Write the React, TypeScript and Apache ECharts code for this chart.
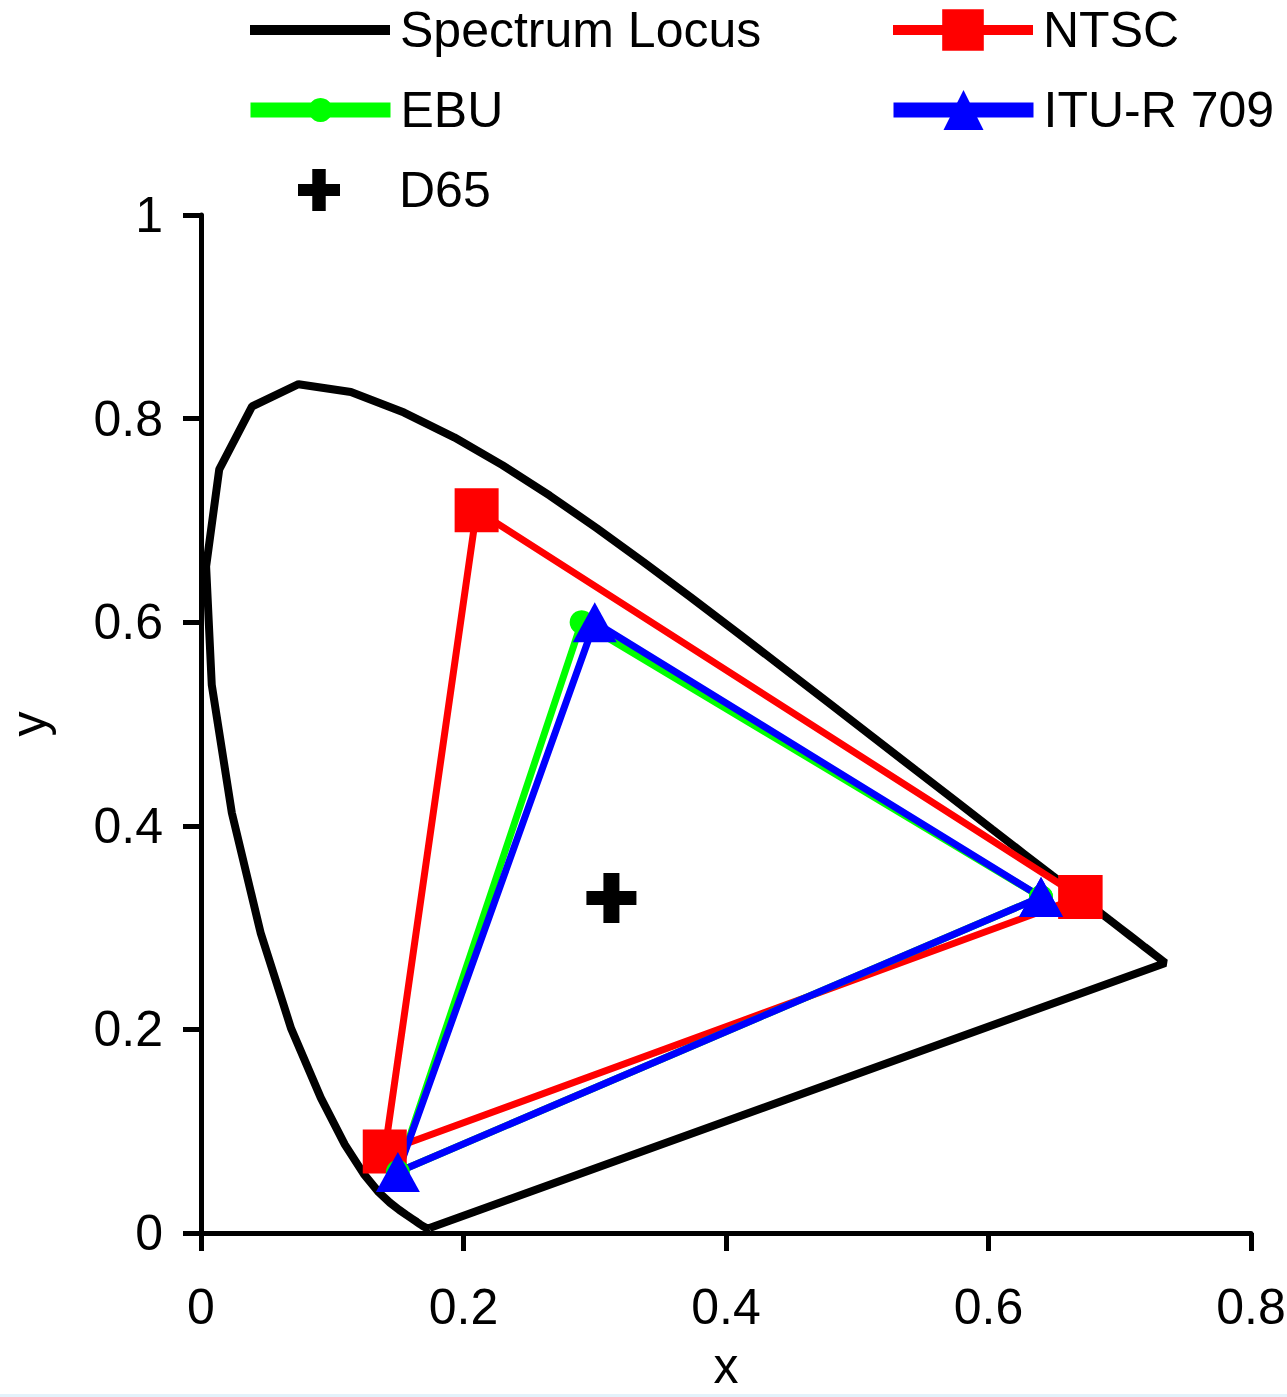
import React, { useEffect, useRef } from "react";
import * as echarts from "echarts";

// CIE 1931 spectrum locus chromaticities (380 nm .. 700 nm)
const locusX = [0.1741, 0.1738, 0.1733, 0.1726, 0.1714, 0.1689, 0.1669, 0.1644, 0.1611, 0.1566, 0.151, 0.144, 0.1355, 0.1241, 0.1096, 0.0913, 0.0687, 0.0454, 0.0235, 0.0082, 0.0039, 0.0139, 0.0389, 0.0743, 0.1142, 0.1547, 0.1929, 0.2296, 0.2658, 0.3016, 0.3373, 0.3731, 0.4087, 0.4441, 0.4788, 0.5125, 0.5448, 0.5752, 0.6029, 0.627, 0.6482, 0.6658, 0.6801, 0.6915, 0.7006, 0.7079, 0.714, 0.719, 0.723, 0.726, 0.73, 0.7334, 0.7347, 0.1741];
const locusY = [0.005, 0.0049, 0.0048, 0.0048, 0.0051, 0.0069, 0.0086, 0.0109, 0.0138, 0.0177, 0.0227, 0.0297, 0.0399, 0.0578, 0.0868, 0.1327, 0.2007, 0.295, 0.4127, 0.5384, 0.6548, 0.7502, 0.812, 0.8338, 0.8262, 0.8059, 0.7816, 0.7543, 0.7243, 0.6923, 0.6589, 0.6245, 0.5896, 0.5547, 0.5202, 0.4866, 0.4544, 0.4242, 0.3965, 0.3725, 0.3514, 0.334, 0.3197, 0.3083, 0.2993, 0.292, 0.2859, 0.2809, 0.277, 0.274, 0.27, 0.2666, 0.2653, 0.005];

// Primaries (R, G, B, back to R)
const ntscX = [0.67, 0.21, 0.14, 0.67];
const ntscY = [0.33, 0.71, 0.08, 0.33];
const ebuX = [0.64, 0.29, 0.15, 0.64];
const ebuY = [0.33, 0.6, 0.06, 0.33];
const ituX = [0.64, 0.3, 0.15, 0.64];
const ituY = [0.33, 0.6, 0.06, 0.33];
const d65X = [0.3127];
const d65Y = [0.329];

const seriesNames = ["Spectrum Locus", "NTSC", "EBU", "ITU-R 709", "D65"];
const xTicks = { min: 0, max: 0.8, interval: 0.2 };
const yTicks = { min: 0, max: 1, interval: 0.2 };

const pair = (xs: number[], ys: number[]) => xs.map((x, i) => [x, ys[i]]);

const PLUS = "path://M34,0 H66 V36 H100 V64 H66 V100 H34 V64 H0 V36 H34 Z";
const FONT = "Liberation Sans";

export default function App() {
  const ref = useRef<HTMLDivElement>(null);
  useEffect(() => {
    if (!ref.current) return;
    const chart = echarts.init(ref.current, null, { renderer: "svg" });
    const textStyle = {
      fontSize: 50,
      fontFamily: FONT,
      color: "#000",
      lineHeight: 52,
      padding: [0, 0, 0, 5],
    };
    const legendBase = {
      orient: "horizontal",
      padding: 0,
      selectedMode: false,
      textStyle,
      itemWidth: 140,
    };
    chart.setOption({
      animation: false,
      backgroundColor: "#fff",
      grid: {
        left: 201,
        top: 215,
        width: 1050,
        height: 1018,
        containLabel: false,
        outerBoundsMode: "none",
      },
      legend: [
        { ...legendBase, left: 250, top: 4, itemHeight: 10, data: [{ name: seriesNames[0], icon: "rect" }] },
        { ...legendBase, left: 888, top: 4, itemHeight: 52, lineStyle: { width: 10 }, data: [seriesNames[1]] },
        { ...legendBase, left: 243, top: 84, itemHeight: 30, lineStyle: { width: 15 }, data: [seriesNames[2]] },
        { ...legendBase, left: 886, top: 84, itemHeight: 50, lineStyle: { width: 15 }, data: [seriesNames[3]] },
        { ...legendBase, left: 298, top: 164, itemHeight: 42, data: [{ name: seriesNames[4], icon: PLUS }] },
      ],
      xAxis: {
        type: "value",
        ...xTicks,
        name: "x",
        nameLocation: "middle",
        nameGap: 113,
        nameTextStyle: { fontSize: 50, fontFamily: FONT, color: "#000", lineHeight: 40 },
        axisLine: { show: true, onZero: false, lineStyle: { color: "#000", width: 5 } },
        axisTick: { show: true, inside: false, length: 18, lineStyle: { color: "#000", width: 5 } },
        axisLabel: { fontSize: 50, fontFamily: FONT, color: "#000", margin: 49 },
        splitLine: { show: false },
      },
      yAxis: {
        type: "value",
        ...yTicks,
        name: "y",
        nameLocation: "middle",
        nameGap: 147,
        nameTextStyle: { fontSize: 50, fontFamily: FONT, color: "#000" },
        axisLine: { show: true, onZero: false, lineStyle: { color: "#000", width: 5 } },
        axisTick: { show: true, inside: false, length: 18, lineStyle: { color: "#000", width: 5 } },
        axisLabel: { fontSize: 50, fontFamily: FONT, color: "#000", margin: 38 },
        splitLine: { show: false },
      },
      series: [
        {
          name: seriesNames[0],
          type: "line",
          data: pair(locusX, locusY),
          symbol: "none",
          color: "#000",
          lineStyle: { color: "#000", width: 8 },
          itemStyle: { color: "#000" },
        },
        {
          name: seriesNames[1],
          type: "line",
          data: pair(ntscX, ntscY),
          symbol: "rect",
          symbolSize: 44,
          color: "#ff0000",
          lineStyle: { color: "#ff0000", width: 7 },
          itemStyle: { color: "#ff0000" },
        },
        {
          name: seriesNames[2],
          type: "line",
          data: pair(ebuX, ebuY),
          symbol: "circle",
          symbolSize: 24,
          color: "#00ff00",
          lineStyle: { color: "#00ff00", width: 7 },
          itemStyle: { color: "#00ff00" },
        },
        {
          name: seriesNames[3],
          type: "line",
          data: pair(ituX, ituY),
          symbol: "triangle",
          symbolSize: [44, 40],
          color: "#0000ff",
          lineStyle: { color: "#0000ff", width: 7 },
          itemStyle: { color: "#0000ff" },
        },
        {
          name: seriesNames[4],
          type: "scatter",
          data: pair(d65X, d65Y),
          symbol: PLUS,
          symbolSize: 50,
          color: "#000",
          itemStyle: { color: "#000", opacity: 1 },
        },
      ],
    });
    return () => chart.dispose();
  }, []);
  return (
    <div style={{ position: "absolute", left: 0, top: 0, width: 1287, height: 1397, background: "#fff" }}>
      <div ref={ref} style={{ position: "absolute", left: 0, top: 0, width: 1287, height: 1397 }} />
      <div style={{ position: "absolute", left: 0, top: 1394, width: 1287, height: 3, background: "#e3f2fb", zIndex: 2 }} />
    </div>
  );
}
